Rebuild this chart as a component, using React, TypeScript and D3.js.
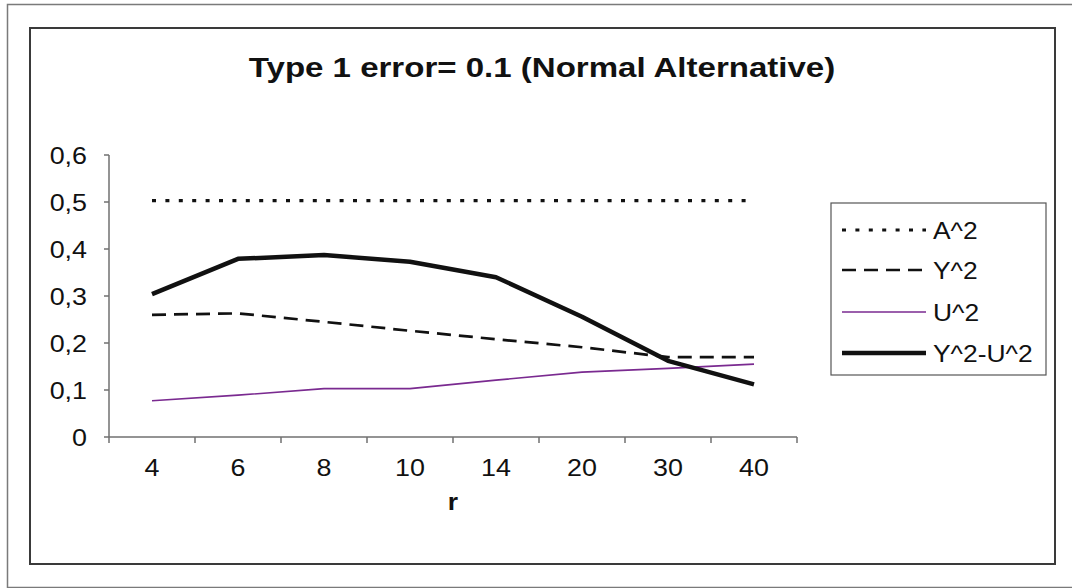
import { line, scaleBand, scaleLinear } from "d3";

const WIDTH = 1072;
const HEIGHT = 588;
const PLOT = { left: 109, right: 797, top: 155, bottom: 437 };

const categories = ["4", "6", "8", "10", "14", "20", "30", "40"];
const seriesA2 = [0.503, 0.503, 0.503, 0.503, 0.503, 0.503, 0.503, 0.503];
const seriesY2 = [0.26, 0.263, 0.245, 0.226, 0.208, 0.191, 0.17, 0.17];
const seriesU2 = [0.077, 0.089, 0.103, 0.103, 0.121, 0.138, 0.146, 0.155];
const seriesY2U2 = [0.304, 0.379, 0.387, 0.373, 0.34, 0.256, 0.162, 0.112];
const yTicks = [0, 0.1, 0.2, 0.3, 0.4, 0.5, 0.6];

const FONT = "'Liberation Sans', Arial, sans-serif";

const series = [
  { name: "A^2", values: seriesA2, stroke: "#111", width: 3.2, dash: "4,9.4" },
  { name: "Y^2", values: seriesY2, stroke: "#111", width: 2.7, dash: "14,8" },
  { name: "U^2", values: seriesU2, stroke: "#7a2a90", width: 1.6, dash: undefined },
  { name: "Y^2-U^2", values: seriesY2U2, stroke: "#111", width: 4.5, dash: undefined },
];

// Excel text comes out a bit wide, so stretch it horizontally
function WideText(props: {
  x: number;
  y: number;
  size: number;
  sx: number;
  anchor: "start" | "middle" | "end";
  bold?: boolean;
  children: string;
}) {
  return (
    <text
      transform={`translate(${props.x},${props.y}) scale(${props.sx},1)`}
      fontFamily={FONT}
      fontSize={props.size}
      fontWeight={props.bold ? "bold" : "normal"}
      textAnchor={props.anchor}
      fill="#111"
    >
      {props.children}
    </text>
  );
}

export default function App() {
  const x = scaleBand<string>().domain(categories).range([PLOT.left, PLOT.right]);
  const y = scaleLinear().domain([0, 0.6]).range([PLOT.bottom, PLOT.top]);
  const cx = (c: string) => (x(c) ?? 0) + x.bandwidth() / 2;

  const pathOf = (values: number[]) =>
    line<number>()
      .x((_, i) => cx(categories[i]))
      .y((v) => y(v))(values) ?? "";

  const legendX = 831;
  const legendRows = [230, 270, 312, 353];

  return (
    <svg
      width={WIDTH}
      height={HEIGHT}
      viewBox={`0 0 ${WIDTH} ${HEIGHT}`}
      style={{ position: "fixed", left: 0, top: 0, background: "#fff" }}
    >
      <rect x={0} y={0} width={WIDTH} height={HEIGHT} fill="#fff" />
      {/* outer frame */}
      <path d={`M${WIDTH},4.5 H7.5 V587.5 H${WIDTH}`} fill="none" stroke="#7a7a7a" strokeWidth={1.5} />
      {/* chart area frame */}
      <rect x={30} y={28} width={1025} height={536} fill="none" stroke="#3a3a3a" strokeWidth={2} />

      <WideText x={542} y={77} size={28} sx={1.18} anchor="middle" bold>
        Type 1 error= 0.1 (Normal Alternative)
      </WideText>

      {/* y axis */}
      <line x1={PLOT.left} x2={PLOT.left} y1={PLOT.top} y2={PLOT.bottom} stroke="#707070" strokeWidth={1.5} />
      {yTicks.map((t) => (
        <g key={t}>
          <line x1={PLOT.left - 5} x2={PLOT.left} y1={y(t)} y2={y(t)} stroke="#707070" strokeWidth={1.5} />
          <WideText x={87} y={y(t) + 8.5} size={24} sx={1.12} anchor="end">
            {t === 0 ? "0" : t.toFixed(1).replace(".", ",")}
          </WideText>
        </g>
      ))}

      {/* x axis */}
      <line x1={PLOT.left} x2={PLOT.right} y1={PLOT.bottom} y2={PLOT.bottom} stroke="#707070" strokeWidth={1.5} />
      {[...categories.map((c) => x(c) ?? 0), PLOT.right].map((px, i) => (
        <line key={i} x1={px} x2={px} y1={PLOT.bottom} y2={PLOT.bottom + 6} stroke="#707070" strokeWidth={1.5} />
      ))}
      {categories.map((c) => (
        <WideText key={c} x={cx(c)} y={476} size={24} sx={1.12} anchor="middle">
          {c}
        </WideText>
      ))}
      <WideText x={453} y={510} size={24} sx={1.1} anchor="middle" bold>
        r
      </WideText>

      {/* series */}
      {series.map((s) => (
        <path
          key={s.name}
          d={pathOf(s.values)}
          fill="none"
          stroke={s.stroke}
          strokeWidth={s.width}
          strokeDasharray={s.dash}
          strokeLinejoin="round"
        />
      ))}

      {/* legend */}
      <rect x={legendX} y={203} width={215} height={172} fill="#fff" stroke="#555" strokeWidth={1.2} />
      {series.map((s, i) => (
        <g key={s.name}>
          <line
            x1={842}
            x2={926}
            y1={legendRows[i]}
            y2={legendRows[i]}
            stroke={s.stroke}
            strokeWidth={s.width}
            strokeDasharray={s.dash}
          />
          <WideText x={933} y={legendRows[i] + 8.5} size={24} sx={1.1} anchor="start">
            {s.name}
          </WideText>
        </g>
      ))}
    </svg>
  );
}
